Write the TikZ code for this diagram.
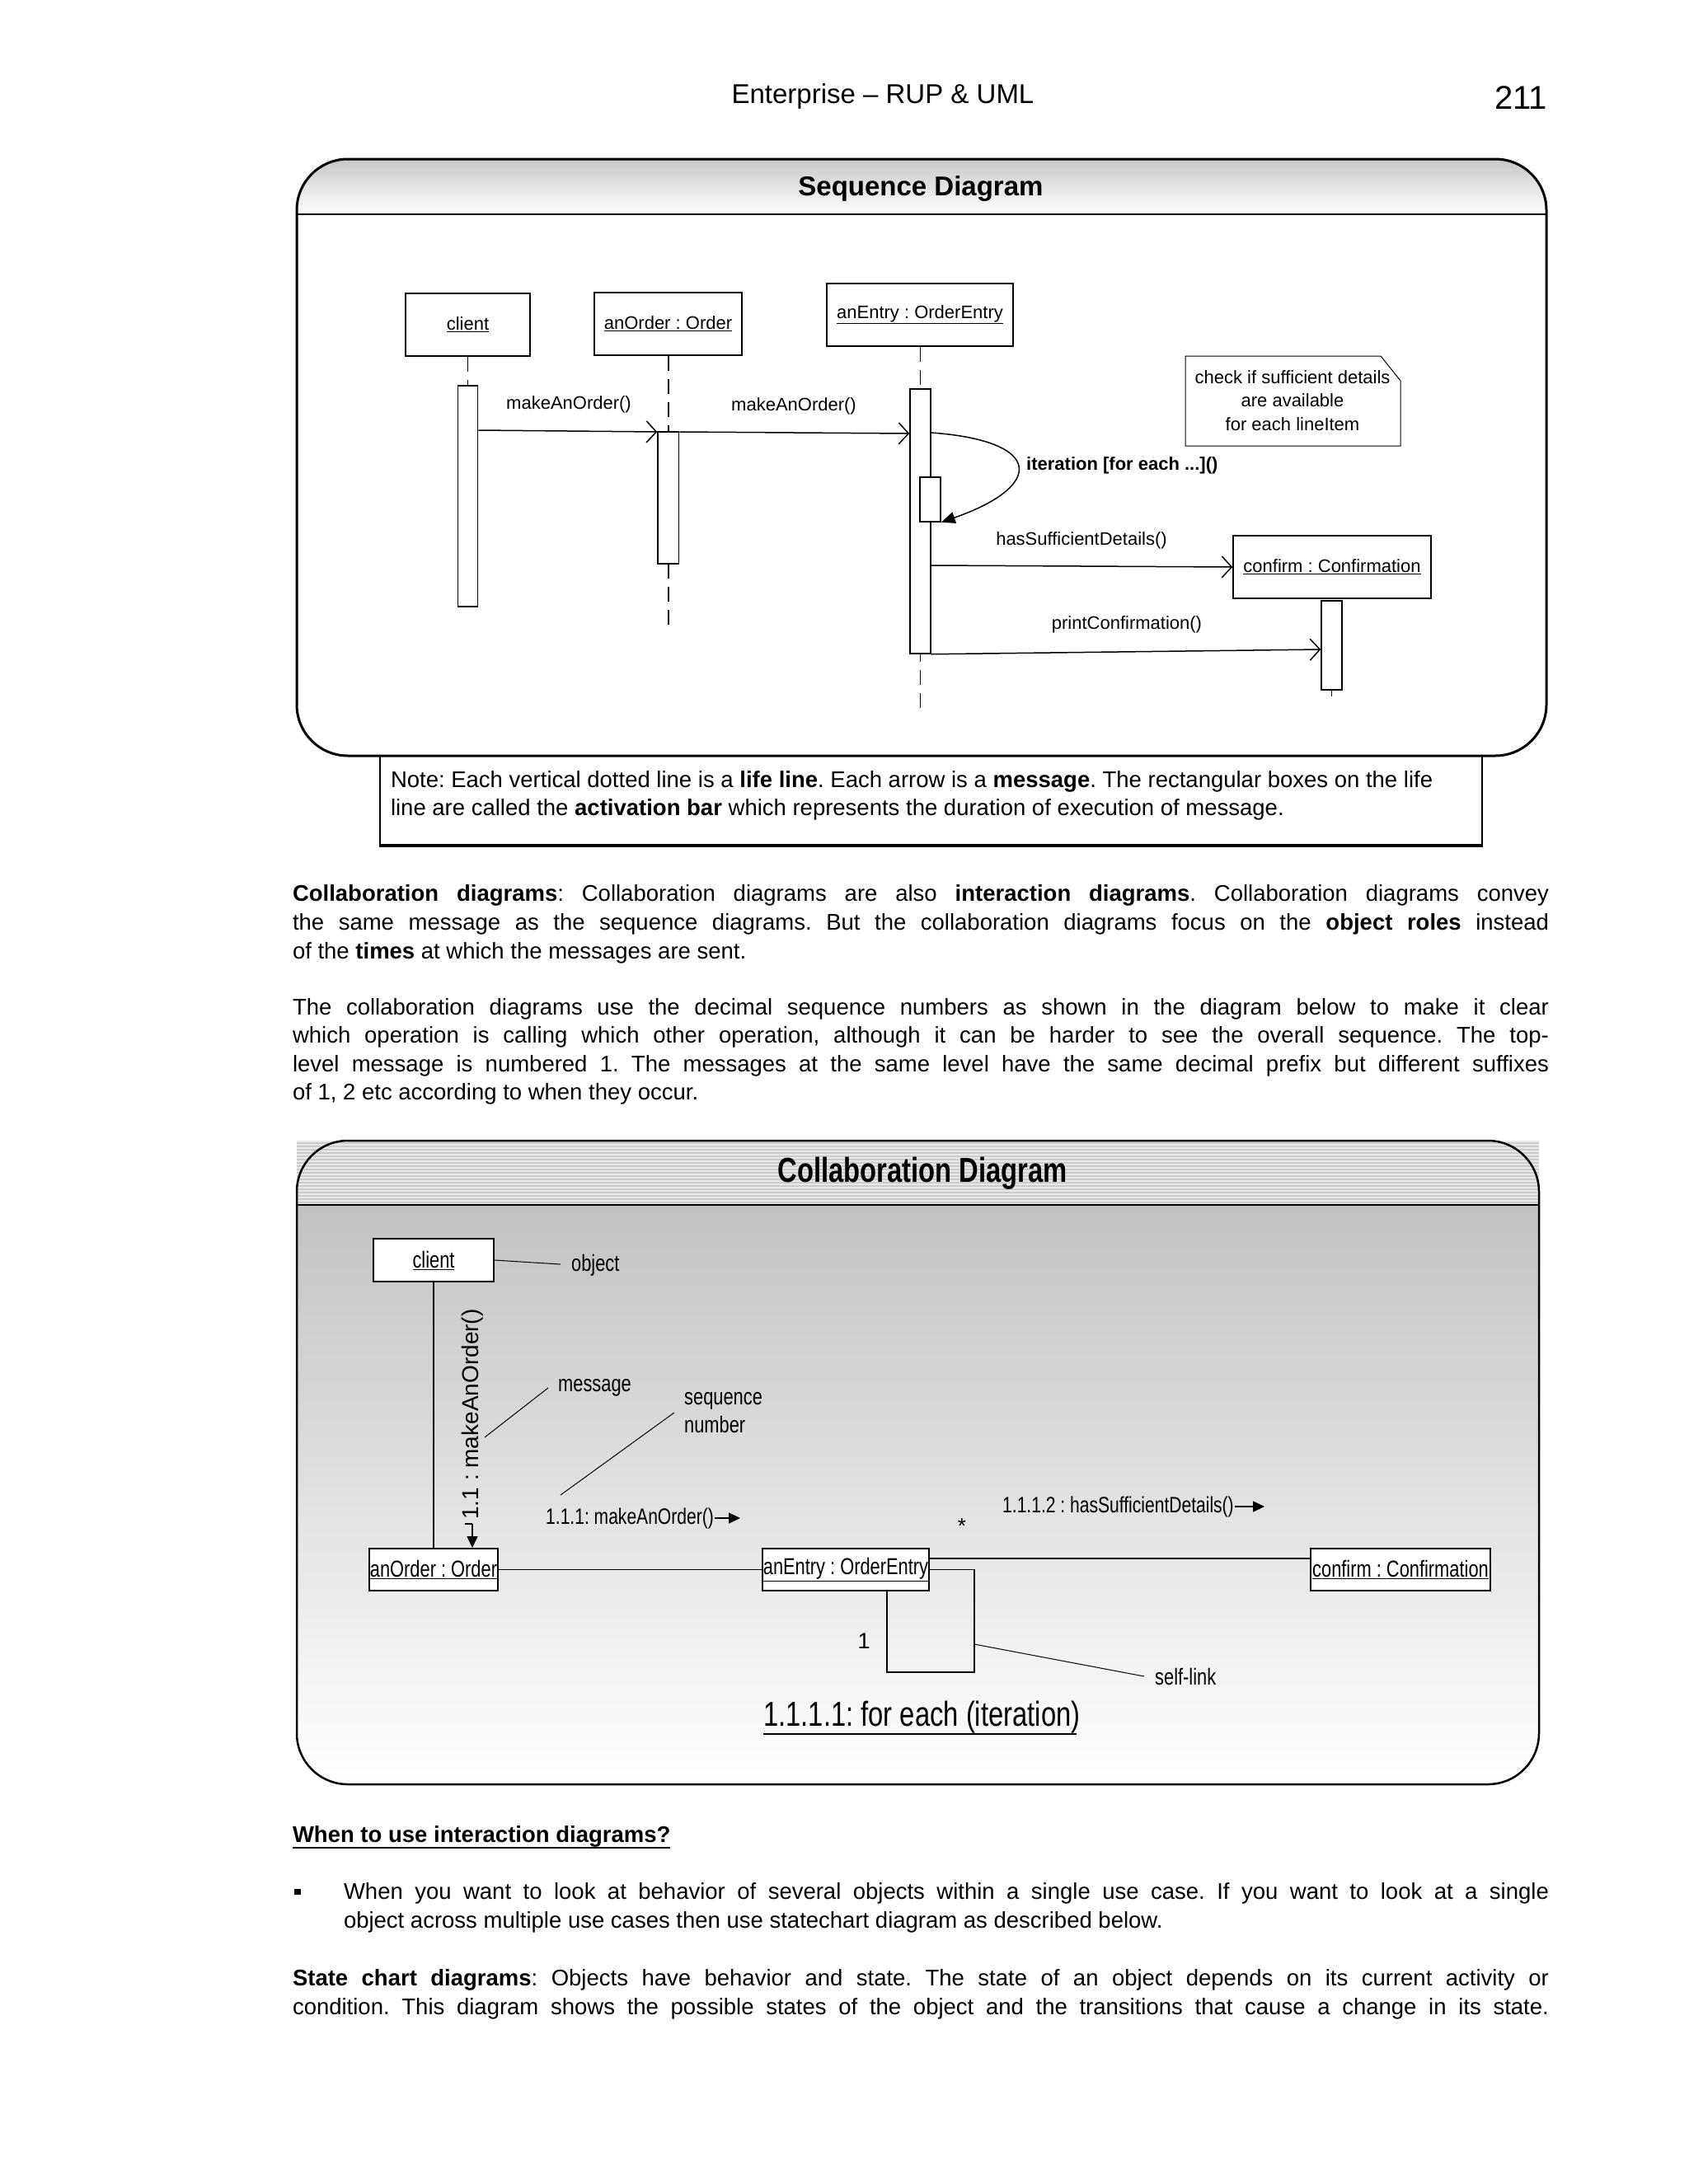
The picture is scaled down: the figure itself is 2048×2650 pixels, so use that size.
\documentclass[tikz,border=0pt]{standalone}
\usepackage{fontspec}
\setmainfont{Liberation Sans}
\newfontfamily\cond[FakeStretch=0.78]{Liberation Sans}
\usetikzlibrary{arrows.meta,calc}
\newcommand\JL[1]{\makebox[1524pt][s]{#1}}
\newcommand\JB[1]{\makebox[1462pt][s]{#1}}
\frenchspacing
\begin{document}
\begin{tikzpicture}[x=1pt,y=-1pt,
  txt/.style={inner sep=0pt, outer sep=0pt, anchor=base west, font=\fontsize{27.5}{34.5}\selectfont},
  objseq/.style={draw, line width=1.5pt, inner sep=0pt, fill=white, minimum height=76pt, font=\fontsize{22}{26}\selectfont},
  act/.style={draw, line width=1.5pt, fill=white, inner sep=0pt},
  life/.style={line width=1.5pt, dash pattern=on 18pt off 10pt},
  msg/.style={line width=1.5pt, -{Straight Barb[length=12pt,width=26pt,line width=1.5pt]}},
  lbl/.style={inner sep=0pt, font=\fontsize{22}{28.5}\selectfont},
  objcol/.style={draw, line width=2pt, fill=white, inner sep=0pt, minimum height=51pt, font=\cond\fontsize{28}{32}\selectfont},
  clbl/.style={inner sep=0pt, font=\cond\fontsize{28}{34}\selectfont},
  lead/.style={line width=1pt},
  link/.style={line width=1.5pt},
  fa/.style={line width=1.5pt, -{Triangle[length=14pt,width=13pt]}}
]
\useasboundingbox (0,0) rectangle (2048,2650);
\fill[white] (0,0) rectangle (2048,2650);

% ---------- page header
\node[txt, anchor=base, font=\fontsize{33}{40}\selectfont] (hdr) at (1071,125) {Enterprise – RUP \& UML};
\node[txt, anchor=base east, font=\fontsize{40}{48}\selectfont] (pg) at (1877,132) {211};

% ---------- sequence diagram frame
\begin{scope}
  \clip[rounded corners=62pt] (360,193) rectangle (1876,917);
  \shade[top color=black!22, bottom color=white] (360,193) rectangle (1876,260);
\end{scope}
\draw[line width=3pt, rounded corners=62pt] (360,193) rectangle (1876,917);
\draw[line width=2.5pt] (360,260) -- (1876,260);
\node[inner sep=0pt, font=\bfseries\fontsize{33}{40}\selectfont] (stitle) at (1117,229) {Sequence Diagram};

% objects
\node[objseq, minimum width=151pt] (sC) at (567.5,394) {\underline{client}};
\node[objseq, minimum width=179pt] (sO) at (810.5,393) {\underline{anOrder : Order}};
\node[objseq, minimum width=226pt] (sE) at (1116,382) {\underline{anEntry : OrderEntry}};
\node[objseq, minimum width=240pt] (sF) at (1616,688) {\underline{confirm : Confirmation}};

% life lines
\coordinate (lCend) at (567.6,468);
\coordinate (lOend) at (810.8,760);
\coordinate (lEend) at (1116.5,862);
\coordinate (lFend) at (1615.5,845);
\draw[life] (sC.south -| lCend) -- (lCend);
\draw[life] (sO.south -| lOend) -- (lOend);
\draw[life] (sE.south -| lEend) -- (lEend);

% activation bars
\node[act, minimum width=24pt, minimum height=268pt] (aC) at (567.6,602) {};
\node[act, minimum width=25.6pt, minimum height=160pt] (aO) at (810.8,604) {};
\node[act, minimum width=25pt, minimum height=321pt] (aE) at (1116.5,632.5) {};
\node[act, minimum width=25pt, minimum height=54pt] (aN) at (1128.5,606) {};
\node[act, minimum width=25pt, minimum height=108pt] (aF) at (1615.5,783) {};
\draw[line width=1.5pt] (aF.south) -- (lFend);

% messages
\draw[msg] (aC.east |- 0,522) -- (aO.west |- 0,524);
\draw[msg] (aO.east |- 0,524) -- (aE.west |- 0,526);
\draw[line width=1.5pt, -{Triangle[length=17pt,width=14pt]}] (aE.east |- 0,525) .. controls (1267,535) and (1267,590) .. (aN.south east);
\draw[msg] (aE.east |- 0,686) -- (sF.west);
\draw[msg] (aE.south east) -- (aF.west |- 0,788);

\node[lbl] (l1) at (690,491) {makeAnOrder()};
\node[lbl] (l2) at (963,493) {makeAnOrder()};
\node[lbl, anchor=west, font=\bfseries\fontsize{22}{26}\selectfont] (l3) at (1245,565) {iteration [for each ...]()};
\node[lbl] (l4) at (1312,656) {hasSufficientDetails()};
\node[lbl] (l5) at (1367,758) {printConfirmation()};

% note
\draw[line width=1pt, fill=white] (1438,432) -- (1675,432) -- (1699,462) -- (1699,541) -- (1438,541) -- cycle;
\node[lbl, align=center] (snote) at (1568,486) {check if sufficient details\\are available\\for each lineItem};

% ---------- note under sequence diagram
\draw[line width=1.5pt] (461,918) -- (461,1026);
\draw[line width=1.5pt] (1798,918) -- (1798,1026);
\draw[line width=3.5pt] (460,1026) -- (1799,1026);
\node[txt] (n1) at (474,955) {Note: Each vertical dotted line is a \textbf{life line}. Each arrow is a \textbf{message}. The rectangular boxes on the life};
\node[txt] (n2) at (474,989) {line are called the \textbf{activation bar} which represents the duration of execution of message.};

% ---------- paragraphs
\node[txt] (p11) at (355,1093) {\JL{\textbf{Collaboration diagrams}: Collaboration diagrams are also \textbf{interaction diagrams}. Collaboration diagrams convey}};
\node[txt] (p12) at (355,1128) {\JL{the same message as the sequence diagrams. But the collaboration diagrams focus on the \textbf{object roles} instead}};
\node[txt] (p13) at (355,1163) {of the \textbf{times} at which the messages are sent.};

\node[txt] (p21) at (355,1231) {\JL{The collaboration diagrams use the decimal sequence numbers as shown in the diagram below to make it clear}};
\node[txt] (p22) at (355,1265) {\JL{which operation is calling which other operation, although it can be harder to see the overall sequence. The top-}};
\node[txt] (p23) at (355,1300) {\JL{level message is numbered 1. The messages at the same level have the same decimal prefix but different suffixes}};
\node[txt] (p24) at (355,1334) {of 1, 2 etc according to when they occur.};

% ---------- collaboration diagram frame
\begin{scope}
  \clip[rounded corners=62pt] (360,1384) rectangle (1867,2165);
  \shade[top color=black!24, bottom color=white] (360,1462) rectangle (1867,2165);
\end{scope}
\fill[black!9] (360,1384) rectangle (1867,1462);
\foreach \yy in {1387,1391,...,1459} \draw[black!20, line width=1.2pt] (360,\yy) -- (1867,\yy);
\draw[line width=2.5pt, rounded corners=62pt] (360,1384) rectangle (1867,2165);
\draw[line width=2.5pt] (360,1462) -- (1867,1462);
\node[inner sep=0pt, font=\cond\bfseries\fontsize{42}{48}\selectfont] (ctitle) at (1119,1424) {Collaboration Diagram};

% objects
\node[objcol, minimum width=146pt, minimum height=52pt] (cC) at (526,1529) {\underline{client}};
\node[objcol, minimum width=156pt] (cO) at (526,1904.5) {\underline{anOrder : Order}};
\node[objcol, minimum width=202pt] (cE) at (1026,1904.5) {\underline{anEntry : OrderEntry}};
\node[objcol, minimum width=218pt] (cF) at (1699,1904.5) {\underline{confirm : Confirmation}};

% links
\draw[link] (cC.south) -- (cO.north);
\draw[link] (cO.east) -- (cE.west);
\draw[link] (cE.east |- 0,1891) -- (cF.west |- 0,1891);
\coordinate (s1) at (1182,1904.5);
\coordinate (s2) at (1182,2029);
\coordinate (s3) at (1076,2029);
\draw[link] (cE.east) -- (s1) -- (s2) -- (s3) -- (s3 |- cE.south);

% labels & leaders
\coordinate (ob) at (680,1534);
\draw[lead] (cC.east) -- (ob);
\node[clbl, anchor=west] (lobj) at (693,1535) {object};

\node[inner sep=0pt, rotate=90, font=\fontsize{28}{32}\selectfont] (m11) at (573,1716) {1.1 : makeAnOrder()};
\coordinate (m11a) at (573,1849);
\draw[line width=1.5pt] (564,1849) -- (m11a);
\draw[fa] (m11a) -- (cO.north -| m11a);

\coordinate (msA) at (665,1684);
\coordinate (msB) at (588,1744);
\draw[lead] (msA) -- (msB);
\node[clbl, anchor=west] (lmsg) at (677,1684) {message};

\coordinate (sqA) at (818,1714);
\coordinate (sqB) at (680,1814);
\draw[lead] (sqA) -- (sqB);
\node[clbl, anchor=west, align=left] (lseq) at (830,1714) {sequence\\number};

\node[clbl, anchor=west, font=\cond\fontsize{27}{32}\selectfont] (m111) at (662,1842) {1.1.1: makeAnOrder()};
\coordinate (m111e) at (898,1842);
\draw[fa] ([xshift=1pt]m111.east) -- (m111e);

\node[inner sep=0pt, font=\fontsize{26}{30}\selectfont] (star) at (1167,1852) {*};

\node[clbl, anchor=west, font=\cond\fontsize{27}{32}\selectfont] (m1112) at (1216,1828) {1.1.1.2 : hasSufficientDetails()};
\coordinate (m1112e) at (1534,1828);
\draw[fa] ([xshift=1pt]m1112.east) -- (m1112e);

\node[inner sep=0pt, font=\fontsize{27}{30}\selectfont] (one) at (1048,1991) {1};

\coordinate (slA) at (1182,1995);
\coordinate (slB) at (1388,2034);
\draw[lead] (slA) -- (slB);
\node[clbl, anchor=west] (lself) at (1401,2034) {self-link};

\node[inner sep=0pt, anchor=base west, font=\cond\fontsize{42}{48}\selectfont] (it) at (926,2094) {1.1.1.1: for each (iteration)};
\draw[line width=1.5pt] (926,2104) -- (1306,2104);

% ---------- bottom text
\node[txt, font=\bfseries\fontsize{27.5}{34.5}\selectfont] (when) at (355,2235) {When to use interaction diagrams?};
\draw[line width=2.5pt] ($(when.base west)+(0,7)$) -- ($(when.base east)+(0,7)$);

\fill (357,2292) rectangle (365,2299);
\node[txt] (b1) at (417,2304) {\JB{When you want to look at behavior of several objects within a single use case. If you want to look at a single}};
\node[txt] (b2) at (417,2339) {object across multiple use cases then use statechart diagram as described below.};

\node[txt] (s1t) at (355,2409) {\JL{\textbf{State chart diagrams}: Objects have behavior and state. The state of an object depends on its current activity or}};
\node[txt] (s2t) at (355,2444) {\JL{condition. This diagram shows the possible states of the object and the transitions that cause a change in its state.}};
\end{tikzpicture}
\end{document}
